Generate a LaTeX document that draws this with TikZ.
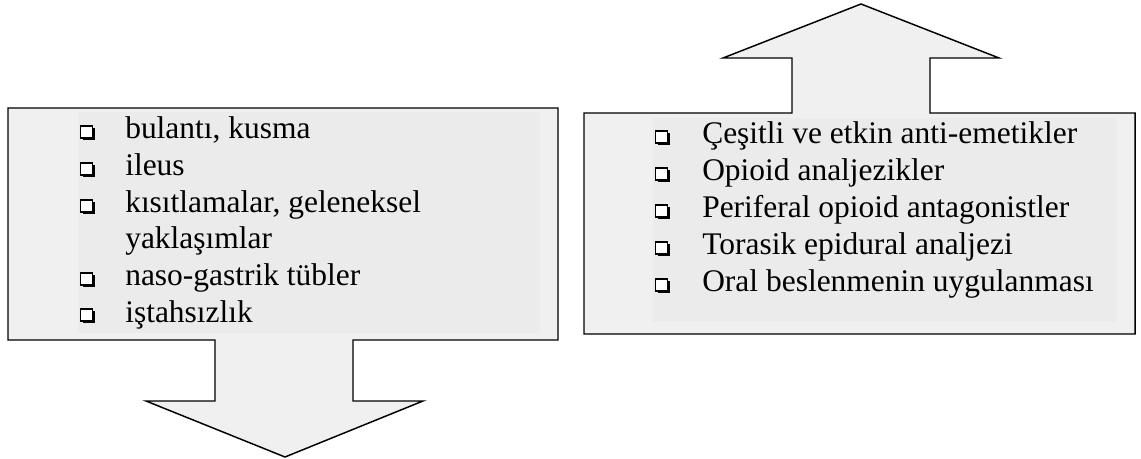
\documentclass[tikz,border=0pt]{standalone}
\usepackage{fontspec}
\setmainfont{Liberation Serif}
\definecolor{calfill}{HTML}{F0F0F0}
\definecolor{framefill}{HTML}{EBEBEB}
\newcommand{\sqbullet}{\tikz[baseline=0pt,x=0.75pt,y=0.75pt]{\fill[black] (2,-1) rectangle (14,11);\draw[black,line width=0.8pt,fill=white] (0,1) rectangle (12,13);}}
\begin{document}
\begin{tikzpicture}[x=0.75pt,y=-0.75pt]
\tikzset{
  callout/.style={draw=black, line width=1.1pt, fill=calfill, line join=miter},
  textframe/.style={fill=framefill, draw=none},
  item/.style={anchor=base west, inner sep=0pt, font=\fontsize{23.6}{28}\selectfont},
  bul/.style={anchor=base west, inner sep=0pt}
}
\useasboundingbox (0,0) rectangle (1141,459);
% left callout (down arrow)
\draw[callout] (8,108) -- (558,108) -- (558,340) -- (353,340) -- (353,401) -- (423,401)
  -- (285,457) -- (146,401) -- (215,401) -- (215,340) -- (8,340) -- cycle;
\fill[textframe] (78,112) rectangle (540,333);
% right callout (up arrow)
\draw[callout] (584,113) -- (792,113) -- (792,58) -- (723,58) -- (861,4) -- (999,58)
  -- (930,58) -- (930,113) -- (1135,113) -- (1135,334) -- (584,334) -- cycle;
\fill[textframe] (653,118) rectangle (1117,322);
% left items
\foreach \y/\t [count=\i] in {139/{bulantı, kusma},176/{ileus},213/{kısıtlamalar, geleneksel},286/{naso-gastrik tübler},322/{iştahsızlık}}{
  \node[bul] (lb\i) at (80,\y) {\sqbullet};
  \node[item] (lt\i) at (125,\y) {\t};
}
\node[item] (lt6) at (125,249) {yaklaşımlar};
% right items
\foreach \y/\t [count=\i] in {144/{Çeşitli ve etkin anti-emetikler},181/{Opioid analjezikler},218/{Periferal opioid antagonistler},255/{Torasik epidural analjezi},292/{Oral beslenmenin uygulanması}}{
  \node[bul] (rb\i) at (655,\y) {\sqbullet};
  \node[item] (rt\i) at (702,\y) {\t};
}
\end{tikzpicture}
\end{document}
